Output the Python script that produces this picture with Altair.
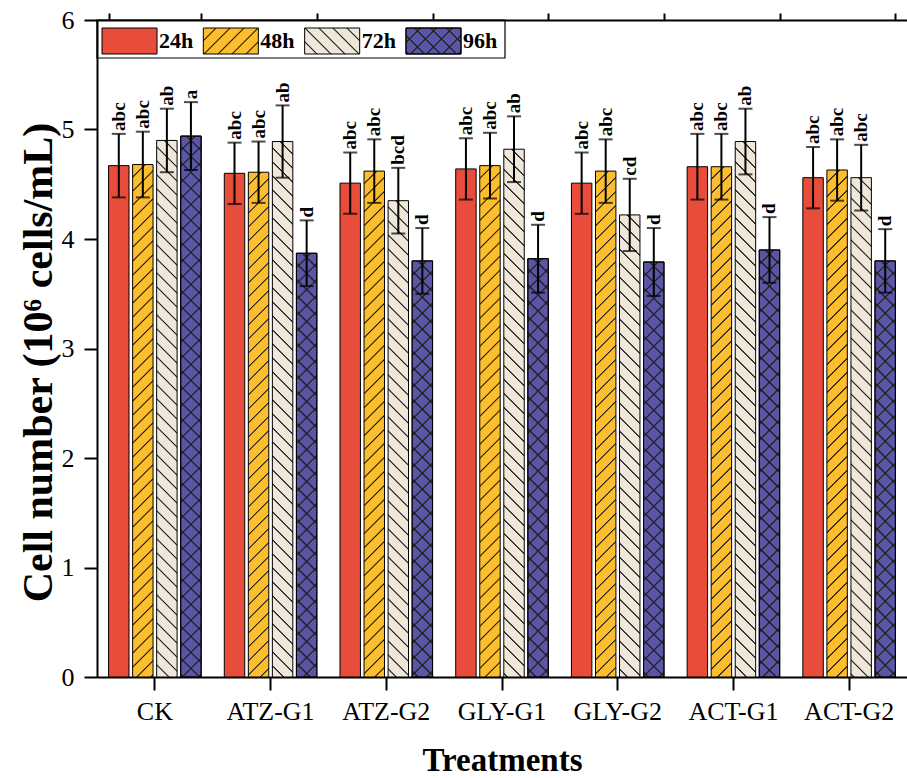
import altair as alt
import pandas as pd

groups = ["CK", "ATZ-G1", "ATZ-G2", "GLY-G1", "GLY-G2", "ACT-G1", "ACT-G2"]
series = ["24h", "48h", "72h", "96h"]

mean_24h = [4.67, 4.60, 4.51, 4.64, 4.51, 4.66, 4.56]
mean_48h = [4.68, 4.61, 4.62, 4.67, 4.62, 4.66, 4.63]
mean_72h = [4.90, 4.89, 4.35, 4.82, 4.22, 4.89, 4.56]
mean_96h = [4.94, 3.87, 3.80, 3.82, 3.79, 3.90, 3.80]

err_24h = [0.29, 0.28, 0.28, 0.28, 0.28, 0.30, 0.28]
err_48h = [0.30, 0.28, 0.29, 0.30, 0.29, 0.30, 0.28]
err_72h = [0.29, 0.33, 0.30, 0.30, 0.33, 0.30, 0.30]
err_96h = [0.31, 0.30, 0.30, 0.31, 0.31, 0.30, 0.29]

sig_24h = ["abc", "abc", "abc", "abc", "abc", "abc", "abc"]
sig_48h = ["abc", "abc", "abc", "abc", "abc", "abc", "abc"]
sig_72h = ["ab", "ab", "bcd", "ab", "cd", "ab", "abc"]
sig_96h = ["a", "d", "d", "d", "d", "d", "d"]

rows = []
for s, ms, es, ls in zip(series,
                         [mean_24h, mean_48h, mean_72h, mean_96h],
                         [err_24h, err_48h, err_72h, err_96h],
                         [sig_24h, sig_48h, sig_72h, sig_96h]):
    for g, m, e, l in zip(groups, ms, es, ls):
        rows.append({"group": g, "series": s, "mean": m, "err": e, "sig": l})
df = pd.DataFrame(rows)
legend_df = pd.DataFrame({"series": series})

# ---- layout (pixels) ----
W, H = 810, 657
PX_PER_UNIT = H / 6.0
GROUP_BAND = (W / 7.0) * 0.8
BAR_W = GROUP_BAND / (4 - 0.15) * (1 - 0.15)
SW_W, SW_H = 55.0, 26.0

C24, C48, C72, C96 = "#E84D3B", "#FDBE2E", "#EFE8DA", "#5A55A6"
LINE = "#262626"
CLEAR = "rgba(0,0,0,0)"
N = 50


def stops_js(bg, line):
    parts = []
    for k in range(N):
        b = k / N
        parts += [(b, bg), (b + 0.82 / N, bg), (b + 0.87 / N, line), (b + 0.93 / N, line)]
    parts.append((1.0, bg))
    return "[" + ",".join("{offset:%.5f,color:'%s'}" % (o, c) for o, c in parts) + "]"


def grad_js(w, h_js, direction, pv, bg, line):
    g = 1.0 / (N * pv)
    lam = "(1/(%.8f*(%.4f+pow(%s,2))))" % (g, w * w, h_js)
    if direction == "f":
        x1, x2 = "0", "%s*%.4f" % (lam, w)
    else:
        x1, x2 = "1", "1-%s*%.4f" % (lam, w)
    y2 = "%s*(%s)" % (lam, h_js)
    return "{gradient:'linear',x1:%s,y1:0,x2:%s,y2:%s,stops:%s}" % (x1, x2, y2, stops_js(bg, line))


def fill_js(w, h_js):
    return ("datum.series=='24h' ? '%s' : datum.series=='48h' ? %s : datum.series=='72h' ? %s : %s" % (
        C24,
        grad_js(w, h_js, "f", 14, C48, LINE),
        grad_js(w, h_js, "b", 14, C72, LINE),
        grad_js(w, h_js, "f", 16, C96, LINE)))


bar_h = "(datum.mean*%.5f)" % PX_PER_UNIT
FONT = "Liberation Serif"

xscale = alt.Scale(type="band", domain=groups, paddingInner=0.2, paddingOuter=0.1)
xoff = alt.XOffset("series:N", scale=alt.Scale(type="band", domain=series, paddingInner=0.15, paddingOuter=0))
yscale = alt.Scale(domain=[0, 6], nice=False, zero=True)

ax_common = dict(labelFont=FONT, labelColor="black", tickColor="black", domainColor="black",
                 tickWidth=2, domainWidth=2, grid=False)
ax_nodomain = {k: v for k, v in ax_common.items() if k not in ("domainColor", "domainWidth")}

x_main = alt.X("group:N", scale=xscale, sort=groups,
               axis=alt.Axis(title="Treatments", labelAngle=0, labelFontSize=26, labelPadding=8,
                             tickSize=13, titleFont=FONT, titleFontSize=33, titleFontWeight="bold",
                             titleColor="black", titlePadding=20, **ax_common))
y_main = alt.Y("mean:Q", scale=yscale,
               axis=alt.Axis(title="Cell number (10⁶ cells/mL)", values=[0, 1, 2, 3, 4, 5, 6], format="d",
                             labelFontSize=26, labelPadding=10, tickSize=13, titleFont=FONT,
                             titleFontSize=42, titleFontWeight="bold", titleColor="black",
                             titlePadding=1, titleY=342, **ax_common))

base = alt.Chart(df).transform_calculate(lo="datum.mean-datum.err", hi="datum.mean+datum.err")

bars = base.transform_calculate(fillv=fill_js(BAR_W, bar_h)).mark_bar(
    stroke="black", strokeWidth=1).encode(
    x=x_main, xOffset=xoff, y=y_main, fill=alt.Fill("fillv:N", scale=None))

bars96 = base.transform_filter("datum.series=='96h'").transform_calculate(
    fillv=grad_js(BAR_W, bar_h, "b", 16, CLEAR, LINE)).mark_bar(
    stroke="black", strokeWidth=1).encode(
    x=alt.X("group:N", scale=xscale, sort=groups, axis=None), xOffset=xoff,
    y=alt.Y("mean:Q", scale=yscale, axis=None), fill=alt.Fill("fillv:N", scale=None))

rules = base.mark_rule(color="black", strokeWidth=2).encode(
    x=alt.X("group:N", scale=xscale, sort=groups,
            axis=alt.Axis(tickBand="extent", tickSize=7, labels=False, domain=False, title=None,
                          **ax_nodomain)),
    xOffset=xoff,
    y=alt.Y("lo:Q", scale=yscale,
            axis=alt.Axis(values=[0.5, 1.5, 2.5, 3.5, 4.5, 5.5], tickSize=8, labels=False, domain=False,
                          title=None, **ax_nodomain)),
    y2="hi:Q")

caps_lo = base.mark_tick(color="black", thickness=2, size=14).encode(
    x=alt.X("group:N", scale=xscale, sort=groups,
            axis=alt.Axis(orient="top", domain=True, ticks=False, labels=False, title=None,
                          domainColor="black", domainWidth=2)),
    xOffset=xoff, y=alt.Y("lo:Q", scale=yscale, axis=None))

caps_hi = base.mark_tick(color="black", thickness=2, size=14).encode(
    x=alt.X("group:N", scale=xscale, sort=groups, axis=None),
    xOffset=xoff, y=alt.Y("hi:Q", scale=yscale, axis=None))

letters = base.mark_text(angle=270, align="left", baseline="middle", dx=3, font=FONT,
                         fontWeight="bold", fontSize=19, color="black").encode(
    x=alt.X("group:N", scale=xscale, sort=groups, axis=None),
    xOffset=xoff, y=alt.Y("hi:Q", scale=yscale, axis=None), text="sig:N")

# ---- legend ----
lscale = alt.Scale(type="band", domain=series, range=[5, 364], paddingInner=0.457, paddingOuter=0)
lbox = alt.Chart(legend_df).transform_filter("datum.series=='24h'").mark_rect(
    fill="white", fillOpacity=0, stroke="black", strokeWidth=1.2).encode(
    x=alt.value(0), x2=alt.value(408), y=alt.value(0), y2=alt.value(38))

lsw = alt.Chart(legend_df).transform_calculate(fillv=fill_js(SW_W, "%.2f" % SW_H)).mark_bar(
    stroke="black", strokeWidth=1).encode(
    x=alt.X("series:N", scale=lscale, sort=series, axis=None),
    y=alt.value(8), y2=alt.value(34), fill=alt.Fill("fillv:N", scale=None))

lsw96 = alt.Chart(legend_df).transform_filter("datum.series=='96h'").transform_calculate(
    fillv=grad_js(SW_W, "%.2f" % SW_H, "b", 16, CLEAR, LINE)).mark_bar(
    stroke="black", strokeWidth=1).encode(
    x=alt.X("series:N", scale=lscale, sort=series, axis=None),
    y=alt.value(8), y2=alt.value(34), fill=alt.Fill("fillv:N", scale=None))

ltext = alt.Chart(legend_df).mark_text(align="left", baseline="middle", dx=2, font=FONT,
                                       fontWeight="bold", fontSize=22, color="black").encode(
    x=alt.X("series:N", scale=lscale, sort=series, axis=None, bandPosition=1),
    y=alt.value(21), text="series:N")

chart = alt.layer(bars, bars96, rules, caps_lo, caps_hi, letters, lbox, lsw, lsw96, ltext).resolve_scale(
    x="independent", xOffset="independent").resolve_axis(x="independent", y="independent").properties(
    width=W, height=H, padding={"left": 97, "top": 20, "right": 0, "bottom": 101},
    autosize=alt.AutoSizeParams(type="none"), background="white"
).configure_view(stroke=None)

chart.save("out.html", embed_options={"renderer": "svg", "actions": False})
